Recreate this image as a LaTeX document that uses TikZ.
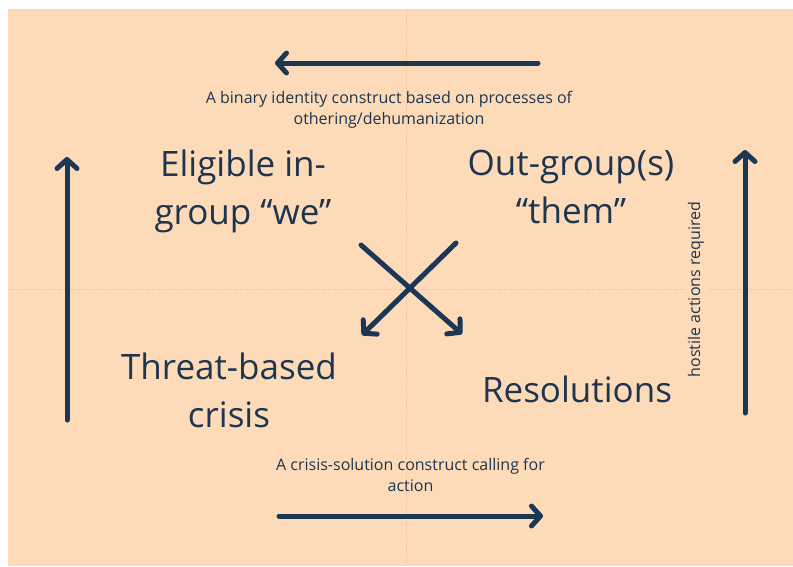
\documentclass[tikz,border=0pt]{standalone}
\usepackage{fontspec}
\setmainfont{Open Sans}
\usetikzlibrary{arrows.meta}
\definecolor{peach}{HTML}{FDDBB8}
\definecolor{navy}{HTML}{1B3755}
\definecolor{ink}{HTML}{1E3550}
\definecolor{guide}{HTML}{F5C899}
\tikzset{
  arr/.style={navy, line width=5pt, line cap=round,
    -{Straight Barb[length=9pt,width=20pt,line width=5pt,line cap=round,line join=round]}},
  big/.style={text=ink, font=\fontsize{35}{48}\selectfont, align=center, inner sep=0pt},
  small/.style={text=ink, font=\fontsize{16}{21.5}\selectfont, align=center, inner sep=0pt},
  gline/.style={guide, line width=1pt, dash pattern=on 4pt off 1.5pt}
}
\begin{document}
\begin{tikzpicture}[x=1pt,y=-1pt]
\useasboundingbox (0,0) rectangle (793,566);
\fill[white] (0,0) rectangle (793,566);
\fill[peach] (8,9) rectangle (793,566);
% guide lines
\draw[gline] (406,9) -- (406,566);
\draw[gline] (8,289) -- (685,289);
\draw[gline] (710,289) -- (793,289);
% texts
\node[big] (ingroup) at (243,191) {Eligible in-\\group “we”};
\node[big] (outgroup) at (571,187) {Out-group(s)\\“them”};
\node[big] (threat) at (229,390) {Threat-based\\crisis};
\node[big] (resol) at (577,389) {Resolutions};
\node[small] (toptext) at (389,110) {A binary identity construct based on processes of\\othering/dehumanization};
\node[small] (bottext) at (410.5,475) {A crisis-solution construct calling for\\action};
\node[small, rotate=90] (hostile) at (696,289.5) {hostile actions required};
% arrow anchor coordinates
\coordinate (t1) at (538,63); \coordinate (t2) at (275,63);
\coordinate (b1) at (279,516); \coordinate (b2) at (543,516);
\coordinate (l1) at (67,420); \coordinate (l2) at (67,157);
\coordinate (r1) at (745,413); \coordinate (r2) at (745,150);
\coordinate (x1) at (361,245); \coordinate (x2) at (462,334);
\coordinate (y1) at (456,243); \coordinate (y2) at (362,335);
\draw[arr] (t1) -- (t2);
\draw[arr] (b1) -- (b2);
\draw[arr] (l1) -- (l2);
\draw[arr] (r1) -- (r2);
\draw[arr] (x1) -- (x2);
\draw[arr] (y1) -- (y2);
\end{tikzpicture}
\end{document}
